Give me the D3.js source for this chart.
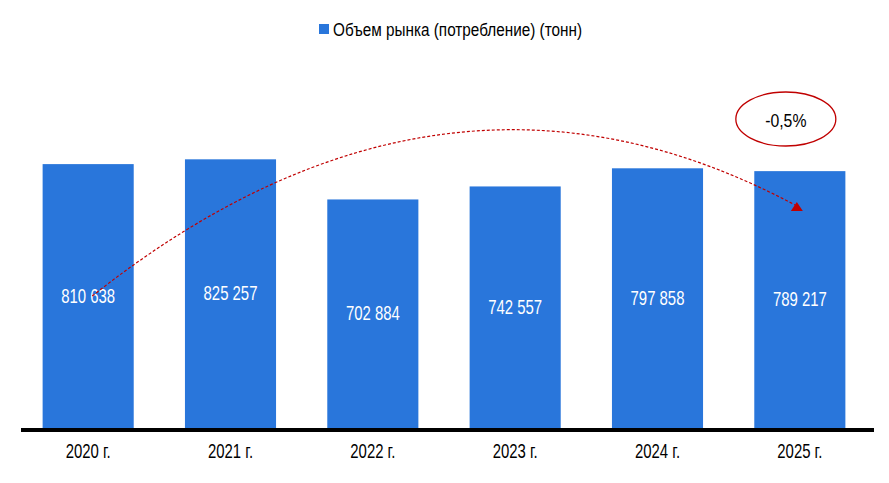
<!DOCTYPE html>
<html><head><meta charset="utf-8">
<script src="https://cdn.jsdelivr.net/npm/d3@7"></script>
<style>
html,body{margin:0;padding:0;background:#fff;}
svg{display:block;}
text{font-family:"Liberation Sans Narrow","Arial Narrow","Liberation Sans",Arial,sans-serif;}
</style></head>
<body>
<svg id="chart" width="889" height="483"></svg>
<script>
const categories = ["2020 г.","2021 г.","2022 г.","2023 г.","2024 г.","2025 г."];
const values = [810638, 825257, 702884, 742557, 797858, 789217];
const seriesName = "Объем рынка (потребление) (тонн)";
const changeLabel = "-0,5%";

const svg = d3.select("#chart");
const barColor = "#2976DB";
const red = "#C00000";

// condense text horizontally (narrow font look)
function condense(sel, factor) {
  sel.each(function() {
    const w = this.getComputedTextLength();
    d3.select(this).attr("textLength", w * factor).attr("lengthAdjust", "spacingAndGlyphs");
  });
}

const x = d3.scaleBand().domain(categories).range([17, 871]).paddingInner(0.36).paddingOuter(0.18);
const y = d3.scaleLinear().domain([0, 1000000]).range([430, 102]);

const fmt = v => d3.format(",")(v).replace(/,/g, " ");

// bars
svg.append("g").selectAll("rect").data(values).join("rect")
  .attr("x", (d,i) => x(categories[i]))
  .attr("width", x.bandwidth())
  .attr("y", d => y(d))
  .attr("height", d => y(0) - y(d))
  .attr("fill", barColor);

// value labels
const vl = svg.append("g").selectAll("text").data(values).join("text")
  .attr("x", (d,i) => x(categories[i]) + x.bandwidth()/2)
  .attr("y", d => (y(d) + y(0))/2 - 2)
  .attr("dy", "0.36em")
  .attr("text-anchor", "middle")
  .attr("fill", "#fff")
  .style("font-size", "21px")
  .text(d => fmt(d));
condense(vl, 0.71);

// axis
const axis = d3.axisBottom(x).tickSize(0).tickPadding(0);
const gAxis = svg.append("g").attr("transform", `translate(0,${y(0)})`).call(axis);
gAxis.select(".domain").remove();
const at = gAxis.selectAll("text")
  .attr("y", 20.5).attr("dy", "0.36em")
  .style("font-size", "21px").attr("fill", "#000")
  .style("font-family", '"Liberation Sans Narrow","Arial Narrow","Liberation Sans",Arial,sans-serif');
condense(at, 0.71);
svg.append("line").attr("x1", 21).attr("x2", 874).attr("y1", y(0)).attr("y2", y(0))
  .attr("stroke", "#000").attr("stroke-width", 4);

// legend
const lg = svg.append("g");
lg.append("rect").attr("x", 319).attr("y", 24).attr("width", 10).attr("height", 10).attr("fill", barColor);
const lt = lg.append("text").attr("x", 333).attr("y", 30).attr("dy", "0.36em")
  .style("font-size", "17.5px").attr("fill", "#000").text(seriesName);
lt.attr("textLength", 249).attr("lengthAdjust", "spacingAndGlyphs");

// trend arrow (quadratic curve from first label to last bar)
const i0 = 0, i1 = categories.length - 1;
const p0 = [x(categories[i0]) + x.bandwidth()/2 + 4, (y(values[i0]) + y(0))/2 - 1];
const p2 = [x(categories[i1]) + x.bandwidth()/2 - 3, 206];
const c = [445, 17];
const path = d3.path();
path.moveTo(p0[0], p0[1]);
path.quadraticCurveTo(c[0], c[1], p2[0], p2[1]);
svg.append("path").attr("d", path.toString()).attr("fill", "none")
  .attr("stroke", red).attr("stroke-width", 1.2).attr("stroke-dasharray", "3,2");
svg.append("path")
  .attr("d", `M${p2[0]},${p2[1]-4} L${p2[0]-6},${p2[1]+5} L${p2[0]+6},${p2[1]+5} Z`)
  .attr("fill", red);

// ellipse annotation
const ex = x(categories[i1]) + x.bandwidth()/2 - 14, ey = 119;
svg.append("ellipse").attr("cx", ex).attr("cy", ey).attr("rx", 50).attr("ry", 27)
  .attr("fill", "none").attr("stroke", red).attr("stroke-width", 1.3);
const pt = svg.append("text").attr("x", ex).attr("y", ey + 1).attr("dy", "0.36em").attr("text-anchor", "middle")
  .style("font-size", "19px").attr("fill", "#000").text(changeLabel);
condense(pt, 0.83);
</script>
</body></html>
